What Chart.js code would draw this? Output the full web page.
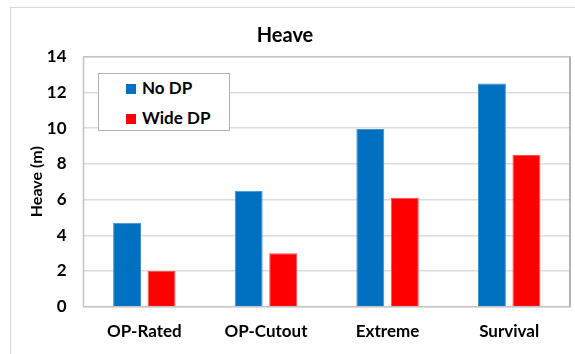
<!DOCTYPE html>
<html>
<head>
<meta charset="utf-8">
<script src="https://cdn.jsdelivr.net/npm/chart.js@4"></script>
<style>
  html, body { margin: 0; padding: 0; background: #fff; overflow: hidden; }
  #wrap { position: relative; width: 575px; height: 354px; }
  #frame { position: absolute; left: 10px; top: 7px; width: 700px; height: 500px; border: 1px solid #d9d9d9; }
  canvas { position: absolute; left: 0; top: 0; }
  #legend { position: absolute; left: 98px; top: 73px; width: 130px; height: 56px; border: 1px solid #b0b0b0; background: #fff;
    font: bold 17px Lato, "Open Sans", sans-serif; color: #000; }
  #legend .it { position: absolute; left: 27px; height: 20px; line-height: 20px; white-space: nowrap; }
  #legend .sw { display: inline-block; width: 10px; height: 10px; margin-right: 6px; vertical-align: 0px; }
</style>
</head>
<body>
<div id="wrap">
  <div id="frame"></div>
  <canvas id="c" width="575" height="354"></canvas>
  <div id="legend"></div>
</div>
<script>
var categories = ["OP-Rated", "OP-Cutout", "Extreme", "Survival"];
var seriesNames = ["No DP", "Wide DP"];
var noDP = [4.7, 6.5, 9.95, 12.5];
var wideDP = [2.0, 3.0, 6.1, 8.5];
var colors = ["#0070C0", "#FF0000"];
var FONT = "Lato, 'Open Sans', sans-serif";

var plotFrame = {
  id: "plotFrame",
  afterDraw: function (chart) {
    var a = chart.chartArea, ctx = chart.ctx;
    ctx.save();
    ctx.strokeStyle = "#c4c4c4";
    ctx.lineWidth = 1.5;
    ctx.strokeRect(a.left, a.top, a.right - a.left, a.bottom - a.top);
    ctx.strokeStyle = "#a8a8a8";
    ctx.beginPath(); ctx.moveTo(a.right, a.top); ctx.lineTo(a.right, a.bottom); ctx.stroke();
    ctx.restore();
  }
};

var chart = new Chart(document.getElementById("c"), {
  type: "bar",
  data: {
    labels: categories,
    datasets: [
      { label: seriesNames[0], data: noDP, backgroundColor: colors[0], borderColor: "#3d8fd0", borderWidth: 1 },
      { label: seriesNames[1], data: wideDP, backgroundColor: colors[1], borderColor: "#ff5050", borderWidth: 1 }
    ]
  },
  options: {
    responsive: false,
    animation: false,
    layout: { padding: { left: 0, right: 5, top: 0, bottom: 0 } },
    datasets: { bar: { categoryPercentage: 0.567, barPercentage: 0.81 } },
    plugins: {
      legend: { display: false },
      tooltip: { enabled: false },
      title: {
        display: true, text: "Heave", color: "#000",
        font: { family: FONT, size: 20, weight: "bold", lineHeight: 1.2 },
        padding: { top: 24, bottom: 8.7 }
      }
    },
    scales: {
      x: {
        grid: { display: false, drawTicks: false },
        border: { display: false },
        ticks: { color: "#000", padding: 15, font: { family: FONT, size: 17, weight: "bold" } },
        afterFit: function (s) { s.height = 47.3; }
      },
      y: {
        min: 0, max: 14,
        ticks: { stepSize: 2, color: "#000", padding: 17, font: { family: FONT, size: 17, weight: "bold" } },
        grid: { color: "#dcdcdc", lineWidth: 1.5, drawTicks: false },
        border: { display: false },
        title: { display: true, text: "Heave (m)", color: "#000", padding: { top: 27.5, bottom: 0 },
          font: { family: FONT, size: 16, weight: "bold", lineHeight: 1.2 } },
        afterFit: function (s) { s.width = 83.5; }
      }
    }
  },
  plugins: [plotFrame]
});

// legend box from the dataset labels/colors
var lg = document.getElementById("legend");
chart.data.datasets.forEach(function (d, i) {
  var it = document.createElement("div");
  it.className = "it";
  it.style.top = (4 + i * 30) + "px";
  it.innerHTML = '<span class="sw" style="background:' + d.backgroundColor + '"></span>' + d.label;
  lg.appendChild(it);
});
</script>
</body>
</html>
